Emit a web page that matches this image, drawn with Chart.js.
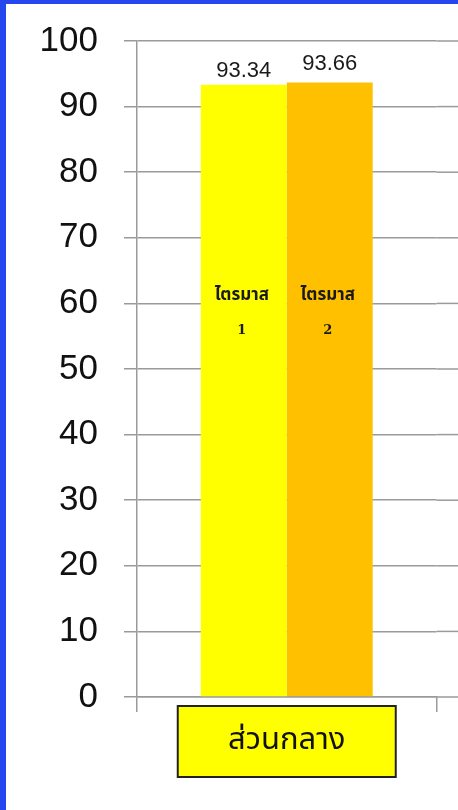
<!DOCTYPE html>
<html>
<head>
<meta charset="utf-8">
<script src="https://cdn.jsdelivr.net/npm/chart.js@4.4.1/dist/chart.umd.min.js"></script>
<style>
  html, body { margin: 0; padding: 0; background: #ffffff; overflow: hidden; }
  #wrap { position: absolute; left: 0; top: 0; width: 458px; height: 810px; }
  #frameLeft { position: absolute; left: 0; top: 0; width: 6px; height: 810px; background: #2448EE; }
  #frameTop { position: absolute; left: 0; top: 0; width: 458px; height: 4px; background: #2448EE; }
</style>
</head>
<body>
<div id="wrap"><canvas id="c" width="458" height="810"></canvas></div>
<div id="frameLeft"></div>
<div id="frameTop"></div>
<script>
// Region on the category axis and the two quarterly series
const categories = ['ส่วนกลาง'];
const seriesNames = ['ไตรมาส 1', 'ไตรมาส 2'];
const quarter1 = [93.34];
const quarter2 = [93.66];
const yTicks = [0, 10, 20, 30, 40, 50, 60, 70, 80, 90, 100];

const GRID = '#9a9a9a';
const THAI = '"Noto Sans Thai", "Noto Sans Thai UI", Tahoma, "Noto Sans", sans-serif';
const NUM = '"Liberation Sans", Arial, sans-serif';

// Gridlines keep running past the last category to the right edge
const extendGrid = {
  id: 'extendGrid',
  beforeDatasetsDraw(chart) {
    const { ctx, chartArea, scales } = chart;
    ctx.save();
    ctx.strokeStyle = GRID;
    ctx.lineWidth = 1.5;
    yTicks.forEach(v => {
      const y = scales.y.getPixelForValue(v);
      ctx.beginPath();
      ctx.moveTo(chartArea.right, y);
      ctx.lineTo(chart.width, y);
      ctx.stroke();
    });
    ctx.restore();
  }
};

// Value above each bar and the series name written inside it
const barLabels = {
  id: 'barLabels',
  afterDatasetsDraw(chart) {
    const { ctx, scales } = chart;
    ctx.save();
    chart.data.datasets.forEach((ds, di) => {
      const meta = chart.getDatasetMeta(di);
      meta.data.forEach((bar, i) => {
        const v = ds.data[i];
        ctx.fillStyle = '#1a1a1a';
        ctx.font = '22px ' + NUM;
        ctx.textAlign = 'center';
        ctx.textBaseline = 'alphabetic';
        ctx.fillText(v.toFixed(2), bar.x, bar.y - ds.valueGap);
        const parts = ds.label.split(' ');
        const yMid = scales.y.getPixelForValue(ds.nameAt);
        ctx.font = 'bold 17px ' + THAI;
        ctx.textBaseline = 'middle';
        ctx.fillText(parts[0], bar.x - 2, yMid - 17);
        ctx.font = 'bold 13px "DejaVu Serif", serif';
        ctx.fillText(parts[1], bar.x - 2, yMid + 17);
      });
    });
    ctx.restore();
  }
};

// Boxed category name under the axis
const categoryBox = {
  id: 'categoryBox',
  afterDraw(chart) {
    const { ctx, scales } = chart;
    ctx.save();
    categories.forEach((name, i) => {
      const cx = scales.x.getPixelForValue(i);
      const top = scales.y.getPixelForValue(0) + 9;
      const w = 218, h = 71;
      ctx.fillStyle = '#ffff00';
      ctx.fillRect(cx - w / 2, top, w, h);
      ctx.strokeStyle = '#222222';
      ctx.lineWidth = 2;
      ctx.strokeRect(cx - w / 2, top, w, h);
      ctx.fillStyle = '#111111';
      ctx.font = '31px ' + THAI;
      ctx.textAlign = 'center';
      ctx.textBaseline = 'middle';
      ctx.fillText(name, cx, top + h / 2 + 1);
    });
    ctx.restore();
  }
};

new Chart(document.getElementById('c'), {
  type: 'bar',
  data: {
    labels: categories,
    datasets: [
      { label: seriesNames[0], data: quarter1, backgroundColor: '#ffff00',
        valueGap: 8, nameAt: 58.5 },
      { label: seriesNames[1], data: quarter2, backgroundColor: '#ffc000',
        valueGap: 13, nameAt: 58.5 }
    ]
  },
  options: {
    responsive: false,
    animation: false,
    events: [],
    layout: { padding: { left: 0, top: 41, right: 21.5, bottom: 0 } },
    plugins: { legend: { display: false }, tooltip: { enabled: false } },
    datasets: { bar: { categoryPercentage: 0.574, barPercentage: 1.0, borderWidth: 0 } },
    scales: {
      x: {
        offset: true,
        grid: { offset: true, drawOnChartArea: false, drawTicks: true, tickLength: 15,
                color: GRID, lineWidth: 1.5 },
        border: { display: true, color: GRID, width: 1.5 },
        ticks: { display: false },
        afterFit(s) { s.height = 113; }
      },
      y: {
        min: 0, max: 100,
        afterBuildTicks(s) { s.ticks = yTicks.map(v => ({ value: v })); },
        grid: { color: GRID, lineWidth: 1.5, tickLength: 13, drawTicks: true },
        border: { display: true, color: GRID, width: 1.5 },
        ticks: { color: '#111111', padding: 26, font: { family: NUM, size: 35, lineHeight: 0.5 } },
        afterFit(s) { s.width = 137; }
      }
    }
  },
  plugins: [extendGrid, barLabels, categoryBox]
});
</script>
</body>
</html>
